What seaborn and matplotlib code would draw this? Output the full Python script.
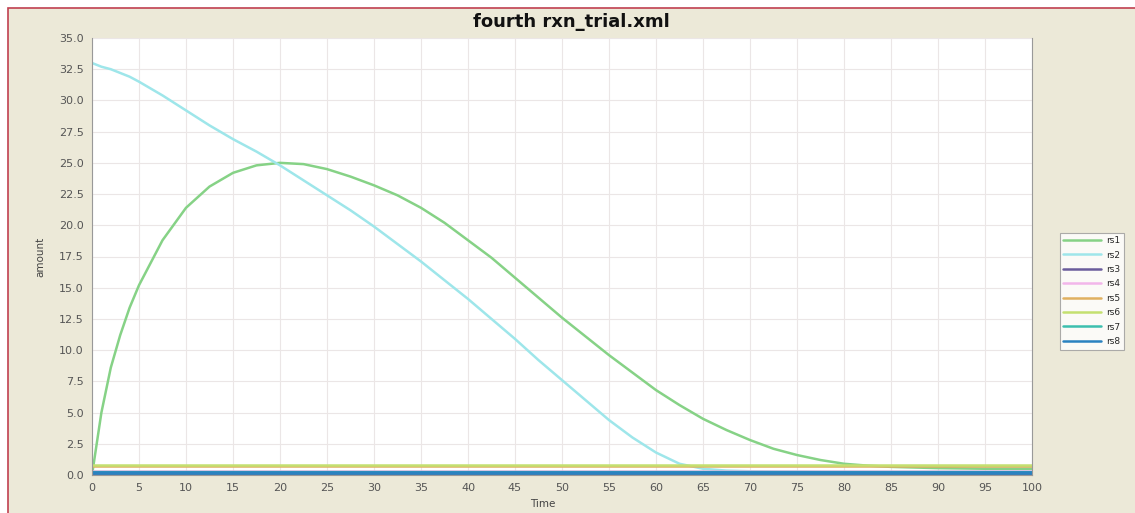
import pandas as pd
import numpy as np
import matplotlib.pyplot as plt
import seaborn as sns
from matplotlib.patches import Rectangle

sns.set_theme(style="whitegrid")
plt.rcParams["font.family"] = ["DejaVu Sans"]

# ── DATA ─────────────────────────────────────────────────────────────────────
time = [0, 1, 2, 3, 4, 5, 7.5, 10, 12.5, 15, 17.5, 20, 22.5, 25, 27.5, 30,
        32.5, 35, 37.5, 40, 42.5, 45, 47.5, 50, 52.5, 55, 57.5, 60, 62.5, 65,
        67.5, 70, 72.5, 75, 77.5, 80, 82.5, 85, 90, 95, 100]
rs1 = [0.0, 5.0, 8.6, 11.2, 13.4,
       15.2, 18.8, 21.4, 23.1, 24.2, 24.8, 25.0, 24.9, 24.5, 23.9,
       23.2, 22.4, 21.4, 20.2, 18.8, 17.4, 15.8, 14.2, 12.6, 11.1,
       9.6, 8.2, 6.8, 5.6, 4.5, 3.6, 2.8, 2.1, 1.6, 1.2,
       0.9, 0.75, 0.65, 0.55, 0.5, 0.5]
rs2 = [33.0, 32.7, 32.5, 32.2, 31.9,
       31.5, 30.4, 29.2, 28.0, 26.9, 25.9, 24.8, 23.6, 22.4, 21.2,
       19.9, 18.5, 17.1, 15.6, 14.1, 12.5, 10.9, 9.2, 7.6, 6.0,
       4.4, 3.0, 1.8, 0.9, 0.5, 0.35, 0.3, 0.27, 0.25, 0.22,
       0.2, 0.2, 0.2, 0.2, 0.2, 0.2]

flat_time = [0, 100]
rs3 = [0.1, 0.1]
rs4 = [0.3, 0.3]
rs5 = [0.7, 0.7]
rs6 = [0.8, 0.8]
rs7 = [0.25, 0.25]
rs8 = [0.15, 0.15]

series_names = ["rs1", "rs2", "rs3", "rs4", "rs5", "rs6", "rs7", "rs8"]
colors = ["#86d286", "#9ee6ea", "#6a5c9c", "#f2b6ea", "#e0b060", "#c4e070",
          "#3cbfae", "#2a82c0"]

frames = [
    pd.DataFrame({"Time": time, "amount": rs1, "series": "rs1"}),
    pd.DataFrame({"Time": time, "amount": rs2, "series": "rs2"}),
    pd.DataFrame({"Time": flat_time, "amount": rs3, "series": "rs3"}),
    pd.DataFrame({"Time": flat_time, "amount": rs4, "series": "rs4"}),
    pd.DataFrame({"Time": flat_time, "amount": rs5, "series": "rs5"}),
    pd.DataFrame({"Time": flat_time, "amount": rs6, "series": "rs6"}),
    pd.DataFrame({"Time": flat_time, "amount": rs7, "series": "rs7"}),
    pd.DataFrame({"Time": flat_time, "amount": rs8, "series": "rs8"}),
]
df = pd.concat(frames, ignore_index=True)

# ── FIGURE ───────────────────────────────────────────────────────────────────
fig = plt.figure(figsize=(11.35, 5.13), dpi=100)
fig.patch.set_facecolor("white")
# window frame: beige panel with a red edge on top/left
frame = Rectangle((8 / 1135, -0.01), 1.0, 1.01 - 8 / 513,
                  transform=fig.transFigure, facecolor="#ece9d8",
                  edgecolor="#c04050", linewidth=1.2, zorder=-10)
fig.add_artist(frame)

ax = fig.add_axes([92 / 1135, 38 / 513, 940 / 1135, 437 / 513])
ax.set_facecolor("white")

sns.lineplot(data=df, x="Time", y="amount", hue="series",
             hue_order=series_names, palette=colors, linewidth=1.8,
             ax=ax, legend=False)
# the teal / blue baseline series look heavier in the original
ax.lines[6].set_linewidth(2.4)
ax.lines[7].set_linewidth(2.6)

ax.set_xlim(0, 100)
ax.set_ylim(0, 35)
ax.set_xticks(np.arange(0, 101, 5))
ax.set_yticks(np.arange(0, 35.1, 2.5))
ax.set_yticklabels([f"{v:.1f}" for v in np.arange(0, 35.1, 2.5)])
ax.tick_params(axis="both", labelsize=8, colors="#555555", length=2, pad=4)
ax.grid(True, color="#ebe6e6", linewidth=0.8)
ax.spines["top"].set_visible(False)
for side in ["left", "bottom", "right"]:
    ax.spines[side].set_color("#999999")
    ax.spines[side].set_linewidth(0.8)

ax.set_xlabel("Time", fontsize=7.5, color="#444444", labelpad=2)
ax.xaxis.set_label_coords(0.48, -0.055)
ax.set_ylabel("amount", fontsize=7.5, color="#444444", labelpad=10)
ax.set_title("fourth rxn_trial.xml", fontsize=13, fontweight="heavy",
             color="#111111", pad=8, x=0.51)

handles = [plt.Line2D([], [], color=c, linewidth=1.8) for c in colors]
leg = fig.legend(handles, series_names, loc="upper left",
                 bbox_to_anchor=(1055 / 1135, 1 - 228 / 513), fontsize=6.5,
                 frameon=True, fancybox=False, handlelength=4.2,
                 labelspacing=0.6, borderpad=0.4, handletextpad=0.6)
leg.get_frame().set_edgecolor("#999999")
leg.get_frame().set_facecolor("white")
leg.get_frame().set_linewidth(0.8)

fig.savefig("out.png", dpi=100)
plt.close(fig)
